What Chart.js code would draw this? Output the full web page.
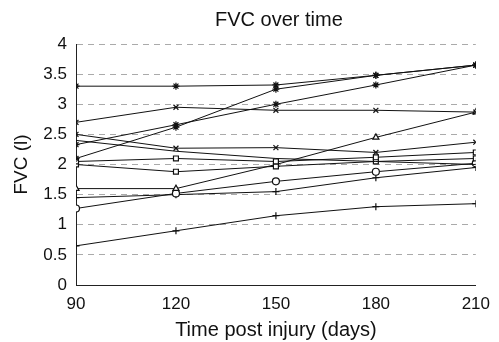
<!DOCTYPE html>
<html>
<head>
<meta charset="utf-8">
<script src="https://cdn.jsdelivr.net/npm/chart.js@4/dist/chart.umd.min.js"></script>
<style>
  html, body { margin: 0; padding: 0; background: #fff; }
  #wrap { width: 499px; height: 342px; }
</style>
</head>
<body>
<div id="wrap"><canvas id="fvc"></canvas></div>
<script>
// days post injury (x axis)
const days = [90, 120, 150, 180, 210];
const yTicks = [0, 0.5, 1, 1.5, 2, 2.5, 3, 3.5, 4];
const chartTitle = "FVC over time";

// FVC (l) per patient
const p1 = [3.3, 3.3, 3.32, 3.48, 3.65];
const p2 = [2.33, 2.66, 3.0, 3.32, 3.65];
const p3 = [2.1, 2.62, 3.25, 3.48, 3.65];
const p4 = [2.7, 2.95, 2.9, 2.9, 2.87];
const p5 = [2.5, 2.27, 2.28, 2.2, 2.37];
const p6 = [2.4, 2.22, 2.1, 2.05, 2.0];
const p7 = [2.05, 2.1, 2.05, 2.12, 2.2];
const p8 = [2.0, 1.88, 1.97, 2.05, 2.1];
const p9 = [1.6, 1.6, 2.0, 2.45, 2.87];
const p10 = [1.27, 1.52, 1.72, 1.88, 2.02];
const p11 = [1.45, 1.5, 1.55, 1.78, 1.95];
const p12 = [0.65, 0.9, 1.15, 1.3, 1.35];

const patients = [p1, p2, p3, p4, p5, p6, p7, p8, p9, p10, p11, p12];
const markers = ["star", "star", "star", "crossRot", "crossRot", "line",
  "rect", "rect", "triangle", "circle", "cross", "cross"];

const datasets = patients.map((vals, i) => ({
  data: vals.map((v, j) => ({ x: days[j], y: v })),
  borderColor: "#111",
  backgroundColor: "#fff",
  borderWidth: 1,
  pointStyle: markers[i],
  pointRadius: markers[i] == "line" ? 0 : 3.5,
  pointBorderColor: "#111",
  pointBorderWidth: 1.2,
  tension: 0,
}));

// title centred over the plot area, not the whole canvas
const plotTitle = {
  id: "plotTitle",
  afterDraw(chart) {
    const { ctx, chartArea } = chart;
    ctx.save();
    ctx.fillStyle = "#111";
    ctx.font = "20px 'Liberation Sans'";
    ctx.textAlign = "center";
    ctx.textBaseline = "middle";
    ctx.fillText(chartTitle, (chartArea.left + chartArea.right) / 2 + 3, 20);
    ctx.restore();
  },
};

new Chart("fvc", {
  type: "line",
  data: { datasets: datasets },
  plugins: [plotTitle],
  options: {
    responsive: true,
    maintainAspectRatio: false,
    animation: false,
    layout: { padding: { left: 0, right: 17, top: 44, bottom: 0 } },
    plugins: {
      legend: { display: false },
      tooltip: { enabled: false },
    },
    scales: {
      x: {
        type: "linear",
        min: 90,
        max: 210,
        afterBuildTicks: (s) => { s.ticks = days.map((d) => ({ value: d })); },
        afterFit: (s) => { s.height = 57; },
        grid: { display: false, drawTicks: false },
        border: { color: "#222", width: 1 },
        ticks: {
          color: "#111",
          padding: 9,
          font: { family: "Liberation Sans", size: 17 },
        },
        title: {
          display: true,
          text: "Time post injury (days)",
          color: "#111",
          font: { family: "Liberation Sans", size: 20 },
          padding: { top: 0, bottom: 0 },
        },
      },
      y: {
        min: 0,
        max: 4,
        afterBuildTicks: (s) => { s.ticks = yTicks.map((v) => ({ value: v })); },
        afterFit: (s) => { s.width = 76; },
        grid: {
          color: "#aaa",
          lineWidth: 1,
          drawTicks: false,
        },
        border: { color: "#222", width: 1, dash: [6, 5] },
        ticks: {
          color: "#111",
          padding: 9,
          font: { family: "Liberation Sans", size: 17 },
          callback: (v) => String(v),
        },
        title: {
          display: true,
          text: "FVC (l)",
          color: "#111",
          font: { family: "Liberation Sans", size: 19 },
          padding: { top: 10, bottom: 0 },
        },
      },
    },
  },
});
</script>
</body>
</html>
